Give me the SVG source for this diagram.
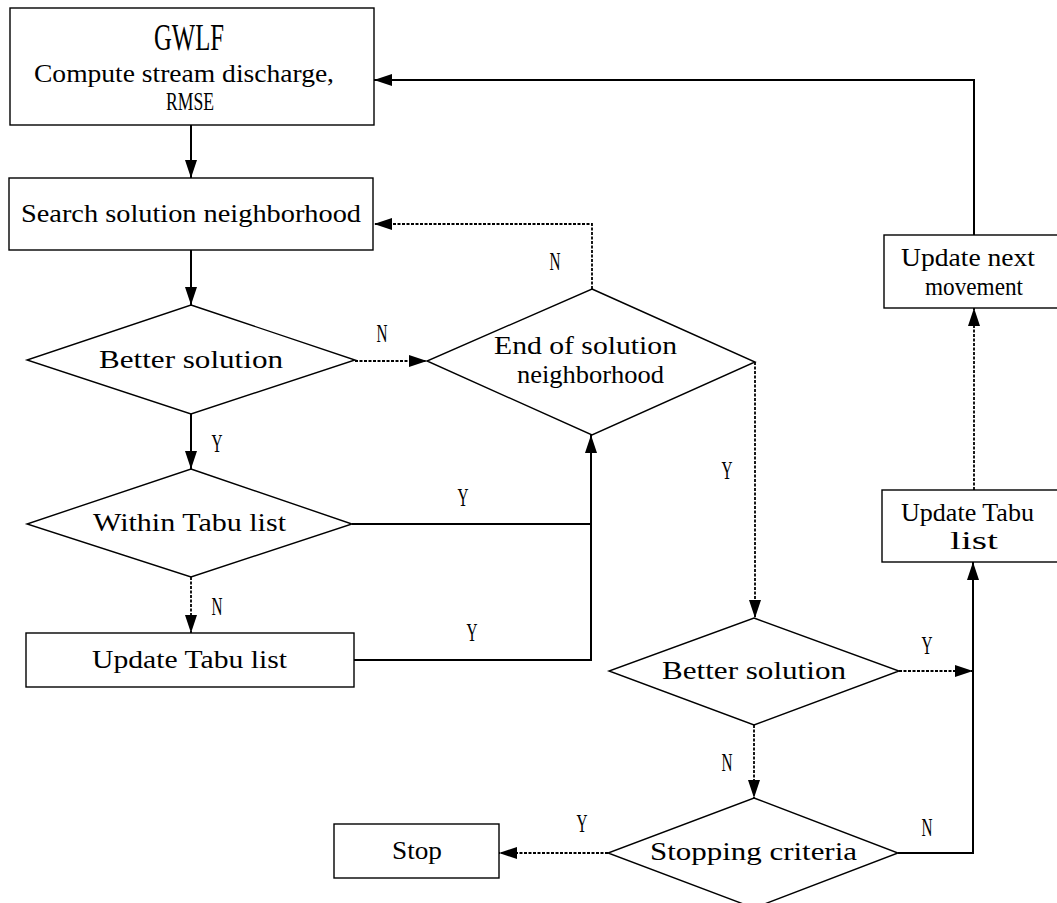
<svg xmlns="http://www.w3.org/2000/svg" width="1057" height="903" viewBox="0 0 1057 903">
<defs>
<style>
.box{fill:#fff;stroke:#000;stroke-width:1.4}
.t{font-family:"Liberation Serif","DejaVu Serif",serif;font-size:25px;fill:#000}
.lbl{font-family:"Liberation Serif","DejaVu Serif",serif;font-size:25px;fill:#000;text-anchor:middle}
.c{fill:none;stroke:#000;stroke-width:2}
.d{fill:none;stroke:#000;stroke-width:1.8;stroke-dasharray:3 1.5}
</style>
<marker id="ah" markerUnits="userSpaceOnUse" markerWidth="18" markerHeight="12" refX="18" refY="6" orient="auto">
<path d="M0,0 L18,6 L0,12 z" fill="#000"/>
</marker>
</defs>
<rect width="1057" height="903" fill="#fff"/>

<g id="connectors">
<line class="c" x1="191" y1="125" x2="191" y2="178" marker-end="url(#ah)"/>
<line class="c" x1="191" y1="250" x2="191" y2="305" marker-end="url(#ah)"/>
<line class="c" x1="191" y1="414" x2="191" y2="469" marker-end="url(#ah)"/>
<line class="d" x1="191" y1="577" x2="191" y2="633" marker-end="url(#ah)"/>
<line class="d" x1="355" y1="361" x2="427" y2="361" marker-end="url(#ah)"/>
<polyline class="d" points="592,289 592,224 374,224" marker-end="url(#ah)"/>
<polyline class="c" points="352,524 591,524"/>
<polyline class="c" points="354,660 591,660 591,435" marker-end="url(#ah)"/>
<line class="d" x1="755" y1="362" x2="755" y2="618" marker-end="url(#ah)"/>
<line class="d" x1="899" y1="671" x2="973" y2="671" marker-end="url(#ah)"/>
<line class="d" x1="754" y1="725" x2="754" y2="798" marker-end="url(#ah)"/>
<line class="d" x1="608" y1="853" x2="499" y2="853" marker-end="url(#ah)"/>
<polyline class="c" points="898,853 973,853 973,562" marker-end="url(#ah)"/>
<line class="d" x1="974" y1="490" x2="974" y2="308" marker-end="url(#ah)"/>
<polyline class="c" points="974,235 974,80 374,80" marker-end="url(#ah)"/>
<text class="lbl" x="382" y="342" textLength="11" lengthAdjust="spacingAndGlyphs">N</text>
<text class="lbl" x="555" y="270" textLength="11" lengthAdjust="spacingAndGlyphs">N</text>
<text class="lbl" x="217" y="452" textLength="11" lengthAdjust="spacingAndGlyphs">Y</text>
<text class="lbl" x="463" y="506" textLength="11" lengthAdjust="spacingAndGlyphs">Y</text>
<text class="lbl" x="217" y="615" textLength="11" lengthAdjust="spacingAndGlyphs">N</text>
<text class="lbl" x="472" y="641" textLength="11" lengthAdjust="spacingAndGlyphs">Y</text>
<text class="lbl" x="727" y="479" textLength="11" lengthAdjust="spacingAndGlyphs">Y</text>
<text class="lbl" x="927" y="654" textLength="11" lengthAdjust="spacingAndGlyphs">Y</text>
<text class="lbl" x="727" y="771" textLength="11" lengthAdjust="spacingAndGlyphs">N</text>
<text class="lbl" x="927" y="836" textLength="11" lengthAdjust="spacingAndGlyphs">N</text>
<text class="lbl" x="582" y="832" textLength="11" lengthAdjust="spacingAndGlyphs">Y</text>
</g>

<g id="gwlf">
<rect class="box" x="10" y="8" width="364" height="117"/>
<text class="t" x="154" y="50" style="font-size:38px" textLength="70" lengthAdjust="spacingAndGlyphs">GWLF</text>
<text class="t" x="34" y="82" textLength="300" lengthAdjust="spacingAndGlyphs">Compute stream discharge,</text>
<text class="t" x="166" y="110" textLength="48" lengthAdjust="spacingAndGlyphs">RMSE</text>
</g>

<g id="search">
<rect class="box" x="9" y="178" width="364" height="72"/>
<text class="t" x="21" y="222" textLength="340" lengthAdjust="spacingAndGlyphs">Search solution neighborhood</text>
</g>

<g id="better1">
<polygon class="box" points="191,305 355,360 191,414 27,360"/>
<text class="t" x="99" y="368" textLength="184" lengthAdjust="spacingAndGlyphs">Better solution</text>
</g>

<g id="within">
<polygon class="box" points="191,469 352,524 191,577 27,524"/>
<text class="t" x="93" y="531" textLength="193" lengthAdjust="spacingAndGlyphs">Within Tabu list</text>
</g>

<g id="update1">
<rect class="box" x="26" y="633" width="328" height="54"/>
<text class="t" x="92" y="668" textLength="195" lengthAdjust="spacingAndGlyphs">Update Tabu list</text>
</g>

<g id="endsol">
<polygon class="box" points="592,289 755,362 592,435 427,361"/>
<text class="t" x="494" y="354" textLength="183" lengthAdjust="spacingAndGlyphs">End of solution</text>
<text class="t" x="517" y="383" textLength="147" lengthAdjust="spacingAndGlyphs">neighborhood</text>
</g>

<g id="better2">
<polygon class="box" points="754,618 899,671 754,725 609,671"/>
<text class="t" x="662" y="679" textLength="184" lengthAdjust="spacingAndGlyphs">Better solution</text>
</g>

<g id="stopping">
<polygon class="box" points="754,798 898,853 754,908 608,853"/>
<text class="t" x="650" y="860" textLength="207" lengthAdjust="spacingAndGlyphs">Stopping criteria</text>
</g>

<g id="stop">
<rect class="box" x="334" y="824" width="165" height="54"/>
<text class="t" x="392" y="859" textLength="50" lengthAdjust="spacingAndGlyphs">Stop</text>
</g>

<g id="update2">
<rect class="box" x="882" y="490" width="200" height="72"/>
<text class="t" x="901" y="521" textLength="133" lengthAdjust="spacingAndGlyphs">Update Tabu</text>
<text class="t" x="950" y="549" textLength="48" lengthAdjust="spacingAndGlyphs">list</text>
</g>

<g id="nextmove">
<rect class="box" x="884" y="235" width="200" height="73"/>
<text class="t" x="901" y="266" textLength="134" lengthAdjust="spacingAndGlyphs">Update next</text>
<text class="t" x="925" y="295" textLength="98" lengthAdjust="spacingAndGlyphs">movement</text>
</g>
</svg>
